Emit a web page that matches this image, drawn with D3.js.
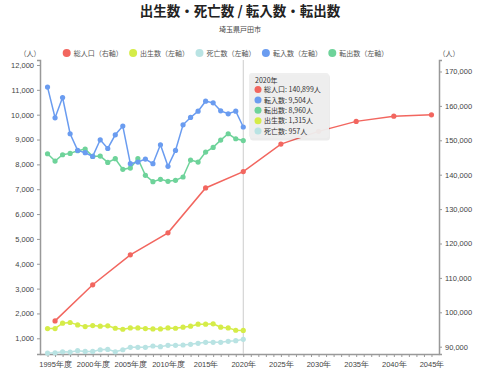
<!DOCTYPE html>
<html>
<head>
<meta charset="utf-8">
<script src="https://cdn.jsdelivr.net/npm/d3@7"></script>
<style>
  body { margin: 0; background: #fff; }
  svg { font-family: "Noto Sans CJK JP", "Noto Sans", sans-serif; }
  .axis path, .axis line { stroke: #999; }
  .axis text { fill: #444; font-size: 7.5px; }
</style>
</head>
<body>
<div id="chart"></div>
<script>
  // data
  var years = d3.range(1994, 2021);
  var tennyu = [11110, 9875, 10690, 9232, 8562, 8469, 8320, 8990, 8640, 9191, 9540, 8027, 8094, 8214, 8027, 8790, 7920, 8562, 9593, 9888, 10142, 10543, 10476, 10155, 10035, 10142, 9504];
  var tenshutsu = [8428, 8134, 8388, 8442, 8549, 8616, 8321, 8335, 8080, 8228, 7800, 7853, 8228, 7558, 7304, 7398, 7317, 7357, 7491, 8174, 8094, 8495, 8683, 8977, 9232, 9031, 8960];
  var births = [1392, 1392, 1608, 1635, 1540, 1473, 1513, 1486, 1500, 1405, 1365, 1419, 1419, 1392, 1378, 1378, 1419, 1405, 1446, 1486, 1568, 1568, 1581, 1446, 1419, 1324, 1315];
  var deaths = [405, 419, 459, 446, 500, 473, 473, 540, 554, 459, 540, 635, 635, 635, 689, 662, 716, 716, 730, 757, 797, 838, 838, 838, 878, 905, 957];
  var popYears = [1995, 2000, 2005, 2010, 2015, 2020, 2025, 2030, 2035, 2040, 2045];
  var population = [97500, 108000, 116700, 123100, 136150, 140899, 148900, 152600, 155500, 157000, 157400];

  var leftTicks = d3.range(1000, 12001, 1000);
  var rightTicks = d3.range(90000, 170001, 10000);
  var xLabelYears = d3.range(1995, 2046, 5);

  var names = ["総人口（右軸）", "出生数（左軸）", "死亡数（左軸）", "転入数（左軸）", "転出数（左軸）"];
  var colors = ["#f2665f", "#d5ec48", "#b9e3e3", "#6a9cf0", "#6ed39a"];

  var width = 480, height = 371;

  var svg = d3.select("#chart").append("svg")
    .attr("width", width)
    .attr("height", height);

  // title
  svg.append("text")
    .attr("x", 240).attr("y", 16)
    .attr("text-anchor", "middle")
    .attr("font-size", "13.5px")
    .attr("font-weight", "bold")
    .attr("fill", "#222")
    .text("出生数・死亡数 / 転入数・転出数");

  svg.append("text")
    .attr("x", 240).attr("y", 32)
    .attr("text-anchor", "middle")
    .attr("font-size", "7px")
    .attr("fill", "#444")
    .text("埼玉県戸田市");

  // scales
  var x = d3.scaleLinear().domain([1993, 2046]).range([40, 439]);
  var yL = d3.scaleLinear().domain([368, 12201]).range([354, 60]);
  var yR = d3.scaleLinear().domain([87878, 173343]).range([354, 60]);

  // axes
  svg.append("g")
    .attr("class", "axis")
    .attr("transform", "translate(40,0)")
    .call(d3.axisLeft(yL).tickValues(leftTicks).tickSize(3).tickSizeOuter(3).tickFormat(d3.format(",")))
    .call(g => g.select(".domain").attr("stroke-width", 1.5));

  svg.append("g")
    .attr("class", "axis")
    .attr("transform", "translate(439,0)")
    .call(d3.axisRight(yR).tickValues(rightTicks).tickSize(3).tickSizeOuter(3).tickFormat(d3.format(",")))
    .call(g => g.select(".domain").attr("stroke-width", 1.5));

  svg.append("g")
    .attr("class", "axis")
    .attr("transform", "translate(0,354)")
    .call(d3.axisBottom(x).tickValues(d3.range(1994, 2046)).tickSize(3).tickSizeOuter(0)
      .tickFormat(d => xLabelYears.includes(d) ? d + (d <= 2010 ? "年度" : "年") : ""))
    .call(g => g.select(".domain").attr("stroke-width", 1.5))
    .call(g => g.selectAll("text").attr("dy", "0.9em"));

  // axis units
  svg.append("text").attr("x", 30).attr("y", 56).attr("text-anchor", "middle")
    .attr("font-size", "7px").attr("fill", "#555").text("（人）");
  svg.append("text").attr("x", 449).attr("y", 56).attr("text-anchor", "middle")
    .attr("font-size", "7px").attr("fill", "#555").text("（人）");

  // legend
  var legend = svg.append("g").selectAll("g")
    .data(names)
    .enter().append("g")
    .attr("transform", (d, i) => "translate(" + (66.7 + i * 66.4) + ",53)");
  legend.append("circle").attr("r", 4).attr("fill", (d, i) => colors[i]);
  legend.append("text").attr("x", 7).attr("y", 2.5)
    .attr("font-size", "7px").attr("fill", "#555").text(d => d);

  // hover line at 2020
  svg.append("line")
    .attr("x1", x(2020)).attr("x2", x(2020))
    .attr("y1", 60).attr("y2", 354)
    .attr("stroke", "#ccc").attr("stroke-width", 1);

  function drawSeries(xs, vals, scale, color) {
    var pts = xs.map((d, i) => [d, vals[i]]);
    var line = d3.line().x(d => x(d[0])).y(d => scale(d[1]));
    svg.append("path").datum(pts)
      .attr("fill", "none").attr("stroke", color).attr("stroke-width", 1.5)
      .attr("d", line);
    svg.append("g").selectAll("circle").data(pts)
      .enter().append("circle")
      .attr("cx", d => x(d[0])).attr("cy", d => scale(d[1]))
      .attr("r", 2.6).attr("fill", color);
  }

  drawSeries(years, deaths, yL, colors[2]);
  drawSeries(years, births, yL, colors[1]);
  drawSeries(years, tenshutsu, yL, colors[4]);
  drawSeries(years, tennyu, yL, colors[3]);
  drawSeries(popYears, population, yR, colors[0]);

  // tooltip
  var fmt = d3.format(",");
  var tipRows = [
    ["総人口", population[5], colors[0]],
    ["転入数", tennyu[26], colors[3]],
    ["転出数", tenshutsu[26], colors[4]],
    ["出生数", births[26], colors[1]],
    ["死亡数", deaths[26], colors[2]]
  ];
  var tip = svg.append("g").attr("transform", "translate(249,73)");
  tip.append("rect")
    .attr("x", 1).attr("y", 1.5).attr("width", 80).attr("height", 66).attr("rx", 3)
    .attr("fill", "#000").attr("opacity", 0.08);
  tip.append("rect")
    .attr("width", 80).attr("height", 65).attr("rx", 3)
    .attr("fill", "#eeeeee").attr("fill-opacity", 0.95);
  tip.append("text").attr("x", 6).attr("y", 9.5)
    .attr("font-size", "7px").attr("fill", "#333").text("2020年");
  var rows = tip.selectAll("g.row").data(tipRows).enter().append("g")
    .attr("transform", (d, i) => "translate(9," + (16.5 + i * 10.4) + ")");
  rows.append("circle").attr("r", 3.5).attr("fill", d => d[2]);
  rows.append("text").attr("x", 6).attr("y", 2.6)
    .attr("font-size", "7px").attr("fill", "#333")
    .text(d => d[0] + ": " + fmt(d[1]) + "人");
</script>
</body>
</html>
